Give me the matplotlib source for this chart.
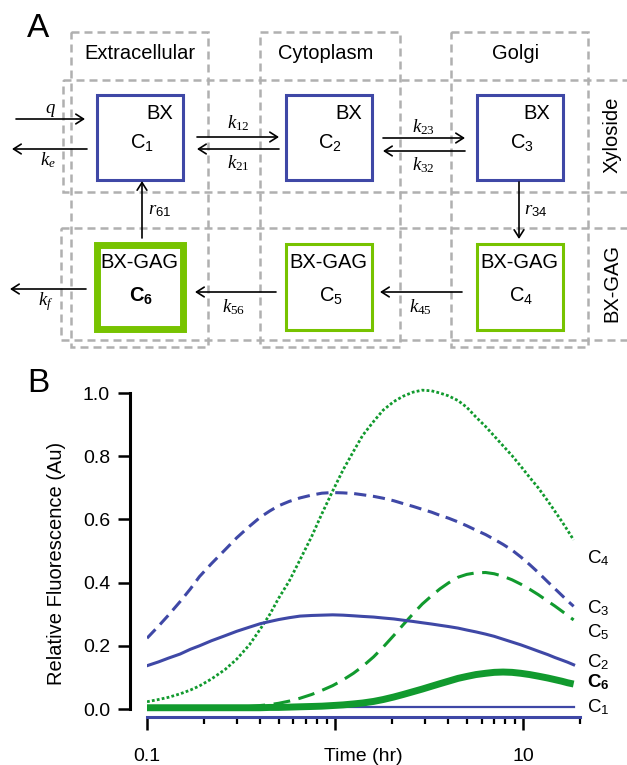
import matplotlib

matplotlib.use("Agg")
import matplotlib.pyplot as plt
from matplotlib.patches import Rectangle
from matplotlib.ticker import LogLocator, NullFormatter

plt.rcParams["font.family"] = ["Liberation Sans", "DejaVu Sans"]
plt.rcParams["mathtext.fontset"] = "custom"
plt.rcParams["mathtext.rm"] = "Liberation Sans"
plt.rcParams["mathtext.it"] = "Liberation Serif:italic"
plt.rcParams["mathtext.bf"] = "Liberation Sans:bold"
plt.rcParams["mathtext.sf"] = "Liberation Serif"

BLUE = "#3f48a6"
GREEN = "#119a2e"
BOX_GREEN = "#77c300"
GRAY = "#b0b0b0"

# simulated compartment curves (relative fluorescence vs time in hours)
time_hr = [0.1, 0.115, 0.13, 0.15, 0.17, 0.19, 0.22, 0.26, 0.3, 0.35, 0.4, 0.45, 0.5, 0.57,
           0.65, 0.75, 0.85, 0.97, 1.1, 1.25, 1.4, 1.6, 1.8, 2.05, 2.3, 2.6, 2.9, 3.25, 3.6,
           4.0, 4.5, 5.0, 5.6, 6.3, 7.0, 7.8, 8.7, 9.7, 10.8, 12.0, 13.5, 14.7, 16.0, 17.2, 18.5]
c2 = [0.137, 0.149, 0.161, 0.174, 0.189, 0.200, 0.216, 0.232, 0.246, 0.259, 0.270, 0.277,
      0.283, 0.289, 0.294, 0.296, 0.297, 0.298, 0.297, 0.295, 0.293, 0.291, 0.288, 0.285,
      0.281, 0.277, 0.273, 0.269, 0.265, 0.261, 0.256, 0.250, 0.244, 0.237, 0.230, 0.221,
      0.212, 0.203, 0.193, 0.183, 0.172, 0.163, 0.155, 0.148, 0.140]
c3 = [0.224, 0.262, 0.297, 0.340, 0.380, 0.419, 0.460, 0.504, 0.542, 0.578, 0.607, 0.627,
      0.643, 0.657, 0.668, 0.677, 0.683, 0.685, 0.684, 0.682, 0.678, 0.673, 0.667, 0.659,
      0.650, 0.641, 0.632, 0.623, 0.613, 0.604, 0.592, 0.580, 0.566, 0.552, 0.537, 0.521,
      0.503, 0.481, 0.457, 0.432, 0.402, 0.381, 0.360, 0.342, 0.325]
c4 = [0.023, 0.030, 0.037, 0.048, 0.060, 0.073, 0.095, 0.125, 0.158, 0.203, 0.253, 0.300,
      0.350, 0.405, 0.472, 0.546, 0.618, 0.690, 0.756, 0.815, 0.866, 0.910, 0.946, 0.973,
      0.990, 1.003, 1.009, 1.007, 1.000, 0.991, 0.976, 0.955, 0.924, 0.894, 0.864, 0.833,
      0.802, 0.768, 0.733, 0.700, 0.658, 0.626, 0.594, 0.565, 0.535]
c5 = [0.000, 0.0005, 0.001, 0.0015, 0.002, 0.0025, 0.003, 0.004, 0.006, 0.008, 0.011, 0.014,
      0.018, 0.025, 0.034, 0.046, 0.059, 0.074, 0.092, 0.113, 0.135, 0.165, 0.196, 0.233,
      0.267, 0.302, 0.332, 0.358, 0.380, 0.399, 0.417, 0.426, 0.431, 0.432, 0.428, 0.420,
      0.409, 0.395, 0.379, 0.362, 0.341, 0.326, 0.310, 0.296, 0.282]
c6 = [0.004, 0.004, 0.004, 0.004, 0.004, 0.004, 0.004, 0.004, 0.004, 0.004, 0.004, 0.005,
      0.005, 0.006, 0.007, 0.008, 0.009, 0.011, 0.013, 0.016, 0.019, 0.024, 0.030, 0.038,
      0.046, 0.055, 0.063, 0.072, 0.080, 0.088, 0.097, 0.103, 0.109, 0.113, 0.116, 0.117,
      0.116, 0.113, 0.109, 0.104, 0.098, 0.093, 0.088, 0.083, 0.079]
c1_time_hr = [0.1, 18.5]
c1 = [0.005, 0.005]

y_ticks = [0.0, 0.2, 0.4, 0.6, 0.8, 1.0]
x_ticks = [0.1, 1, 10]
x_ticklabels = ["0.1", "", "10"]

W, H = 627, 765
fig = plt.figure(figsize=(W / 100, H / 100), dpi=100)

# ---- panel A: compartment diagram, drawn in pixel coordinates ----
ax_a = fig.add_axes([0, 0, 1, 1])
ax_a.set_xlim(0, W)
ax_a.set_ylim(H, 0)
ax_a.axis("off")

dash = (0, (3.2, 2.0))
for x0, x1 in [(71, 208), (260, 400), (451, 588)]:
    ax_a.add_patch(Rectangle((x0, 32), x1 - x0, 315, fill=False, ec=GRAY, lw=1.8, ls=dash, zorder=1))
for x0, y0, y1 in [(63, 80, 192), (61, 228, 340)]:
    ax_a.add_patch(Rectangle((x0, y0), 640 - x0, y1 - y0, fill=False, ec=GRAY, lw=1.8, ls=dash, zorder=1))

for x0 in [96.5, 285.5, 476.5]:
    ax_a.add_patch(Rectangle((x0, 94.5), 86, 85, fc="white", ec=BLUE, lw=2.2, zorder=3))
bottom_boxes = [(96.5, 244.5, 84, 5.0), (285.5, 243.5, 86, 2.2), (476.5, 243.5, 86, 2.2)]
for x0, y0, h, lw in bottom_boxes:
    ax_a.add_patch(Rectangle((x0, y0), 86, h, fc="white", ec=BOX_GREEN, lw=lw, zorder=3))


def arrow(ax, x0, y0, x1, y1):
    ax.annotate("", xy=(x1, y1), xytext=(x0, y0),
                arrowprops=dict(arrowstyle="->,head_length=0.55,head_width=0.35", lw=1.2,
                                color="black", shrinkA=0, shrinkB=0), zorder=4)


arrows = [(16, 119, 85, 119), (87, 149, 12, 149), (197, 137, 279, 137), (279, 149, 197, 149),
          (383, 138, 465, 138), (465, 151, 383, 151), (142, 238, 142, 181), (519, 182, 519, 239),
          (86, 289, 10, 289), (276, 292, 195, 292), (462, 292, 380, 292)]
for a in arrows:
    arrow(ax_a, *a)

rate_labels = [(50, 110, "$q$"), (48, 160, "$k_e$"), (238, 123, r"$k_{\mathsf{12}}$"),
               (238, 163, r"$k_{\mathsf{21}}$"), (423, 127, r"$k_{\mathsf{23}}$"),
               (423, 165, r"$k_{\mathsf{32}}$"), (160, 210, r"$r_{\mathit{61}}$"),
               (536, 210, r"$r_{\mathit{34}}$"), (46, 302, "$k_f$"),
               (234, 307, r"$k_{\mathsf{56}}$"), (420, 307, r"$k_{\mathsf{45}}$")]
for x, y, s in rate_labels:
    ax_a.text(x, y, s, fontsize=13.5, ha="center", va="center", zorder=5)

for x, y, s in [(140, 53, "Extracellular"), (326, 53, "Cytoplasm"), (516, 53, "Golgi")]:
    ax_a.text(x, y, s, fontsize=14.5, ha="center", va="center")
ax_a.text(612, 135, "Xyloside", fontsize=14.5, ha="center", va="center", rotation=90)
ax_a.text(612, 283, "BX-GAG", fontsize=14.5, ha="center", va="center", rotation=90)

for x_bx, x_c, sub in [(160, 142, "1"), (349, 330, "2"), (537, 522, "3")]:
    ax_a.text(x_bx, 113, "BX", fontsize=14.5, ha="center", va="center", zorder=5)
    ax_a.text(x_c, 142, "C$_%s$" % sub, fontsize=14.5, ha="center", va="center", zorder=5)
for x_c, s in [(139.5, r"$\mathbf{C}_{\mathbf{6}}$"), (328.5, "C$_5$"), (519.5, "C$_4$")]:
    ax_a.text(x_c, 262, "BX-GAG", fontsize=14.5, ha="center", va="center", zorder=5)
    ax_a.text(x_c + 2, 295, s, fontsize=14.5, ha="center", va="center", zorder=5)

ax_a.text(38, 28, "A", fontsize=24, ha="center", va="center")
ax_a.text(38, 383, "B", fontsize=24, ha="center", va="center")

# ---- panel B: simulated time courses ----
ax_top, ax_bot = 386.7, 717
ax = fig.add_axes([147 / W, 1 - ax_bot / H, 433 / W, (ax_bot - ax_top) / H])
ax.set_xscale("log")
ax.set_xlim(0.1, 20)
ax.set_ylim(-0.0253, 1.02)

ax.plot(time_hr, c4, color=GREEN, lw=2.0, ls=(0, (1, 0.8)))
ax.plot(time_hr, c3, color=BLUE, lw=2.2, ls=(0, (4, 2.2)))
ax.plot(time_hr, c5, color=GREEN, lw=2.2, ls=(0, (5.5, 2.8)))
ax.plot(time_hr, c2, color=BLUE, lw=2.2)
ax.plot(c1_time_hr, c1, color=BLUE, lw=1.6)
ax.plot(time_hr, c6, color=GREEN, lw=5.0, solid_capstyle="butt")

end_labels = [(0.478, "C$_4$"), (0.320, "C$_3$"), (0.244, "C$_5$"), (0.149, "C$_2$"),
              (0.085, r"$\mathbf{C}_{\mathbf{6}}$"), (0.006, "C$_1$")]
for y, s in end_labels:
    ax.text(1.016, y, s, transform=ax.get_yaxis_transform(), fontsize=13.5, ha="left", va="center")

for side in ["top", "right"]:
    ax.spines[side].set_visible(False)
ax.spines["left"].set_position(("outward", 12.2))
ax.spines["left"].set_bounds(0, 1)
ax.spines["left"].set_linewidth(2.2)
ax.spines["bottom"].set_color(BLUE)
ax.spines["bottom"].set_linewidth(2.2)

ax.set_yticks(y_ticks)
ax.set_yticklabels(["%.1f" % v for v in y_ticks])
ax.set_xticks(x_ticks)
ax.set_xticklabels(x_ticklabels)
ax.xaxis.set_minor_locator(LogLocator(base=10, subs=range(2, 10)))
ax.xaxis.set_minor_formatter(NullFormatter())
ax.tick_params(axis="y", length=8.6, width=1.8, pad=5.8, labelsize=14)
ax.tick_params(axis="x", which="major", length=9.4, width=1.8, pad=13, labelsize=14)
ax.tick_params(axis="x", which="minor", length=5, width=1.6)

ax.set_ylabel("Relative Fluorescence (Au)", fontsize=14.5)
ax.yaxis.label.set_va("center")
ax.yaxis.set_label_coords(-(147 - 56) / 433, (ax_bot - 563) / (ax_bot - ax_top))
ax.set_xlabel("Time (hr)", fontsize=14)
ax.xaxis.set_label_coords(0.5, -(13 + 13 / 0.72) / (ax_bot - ax_top))

fig.savefig("out.png", dpi=100)
